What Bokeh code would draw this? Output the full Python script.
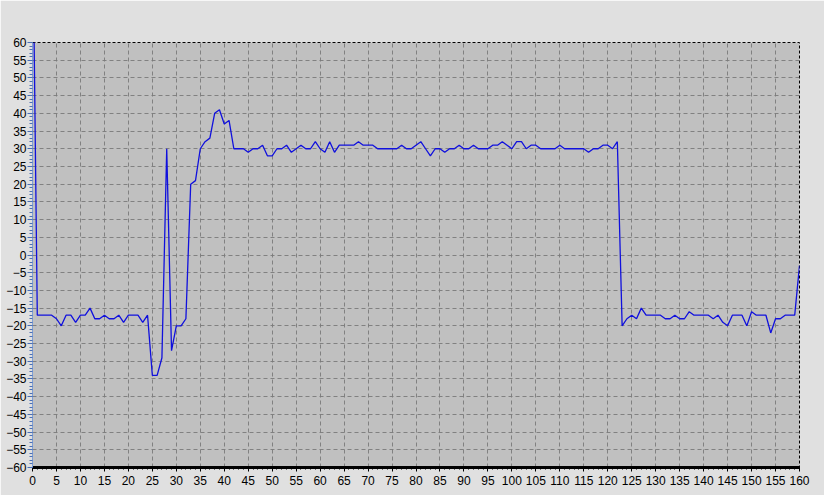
from bokeh.plotting import figure
from bokeh.models import Range1d, SingleIntervalTicker
from bokeh.embed import file_html
from bokeh.resources import INLINE

# ---- data ----
x_values = list(range(0, 161))
y_values = [
    100, -17, -17, -17, -17, -18, -20, -17, -17, -19,
    -17, -17, -15, -18, -18, -17, -18, -18, -17, -19,
    -17, -17, -17, -19, -17, -34, -34, -29, 30, -27,
    -20, -20, -18, 20, 21, 30, 32, 33, 40, 41,
    37, 38, 30, 30, 30, 29, 30, 30, 31, 28,
    28, 30, 30, 31, 29, 30, 31, 30, 30, 32,
    30, 29, 32, 29, 31, 31, 31, 31, 32, 31,
    31, 31, 30, 30, 30, 30, 30, 31, 30, 30,
    31, 32, 30, 28, 30, 30, 29, 30, 30, 31,
    30, 30, 31, 30, 30, 30, 31, 31, 32, 31,
    30, 32, 32, 30, 31, 31, 30, 30, 30, 30,
    31, 30, 30, 30, 30, 30, 29, 30, 30, 31,
    31, 30, 32, -20, -18, -17, -18, -15, -17, -17,
    -17, -17, -18, -18, -17, -18, -18, -16, -17, -17,
    -17, -17, -18, -17, -19, -20, -17, -17, -17, -20,
    -16, -17, -17, -17, -22, -18, -18, -17, -17, -17,
    -3,
]
x_min, x_max, x_step = 0, 160, 5
y_min, y_max, y_step = -60, 60, 5

FONT = "Liberation Sans"

p = figure(width=824, height=495, output_backend="svg", toolbar_location=None,
           x_range=Range1d(x_min, x_max), y_range=Range1d(y_min, y_max),
           min_border_left=32, min_border_top=42, min_border_right=25,
           min_border_bottom=28)
p.background_fill_color = "#c0c0c0"
p.border_fill_color = "#e0e0e0"
p.outline_line_color = "black"
p.outline_line_dash = "3 2"
p.outline_line_width = 1

# x axis
p.xaxis.ticker = SingleIntervalTicker(interval=x_step, num_minor_ticks=5)
p.xaxis.axis_line_color = "black"
p.xaxis.axis_line_width = 3
p.xaxis.major_tick_line_color = "black"
p.xaxis.major_tick_out = 4
p.xaxis.major_tick_in = 0
p.xaxis.minor_tick_line_color = "black"
p.xaxis.minor_tick_out = 2
p.xaxis.minor_tick_in = 0
p.xaxis.major_label_standoff = 4
p.xaxis.major_label_text_font = FONT
p.xaxis.major_label_text_font_size = "12px"
p.xaxis.major_label_text_color = "black"

# y axis
p.yaxis.ticker = SingleIntervalTicker(interval=y_step, num_minor_ticks=5)
p.yaxis.axis_line_color = "#7f9fd6"
p.yaxis.axis_line_width = 1
p.yaxis.major_tick_line_color = "#4a6fb5"
p.yaxis.major_tick_out = 5
p.yaxis.major_tick_in = 0
p.yaxis.minor_tick_line_color = "#4a6fb5"
p.yaxis.minor_tick_out = 3
p.yaxis.minor_tick_in = 0
p.yaxis.major_label_standoff = 1
p.yaxis.major_label_text_font = FONT
p.yaxis.major_label_text_font_size = "12px"
p.yaxis.major_label_text_color = "black"

# grid
for g in (p.xgrid, p.ygrid):
    g.grid_line_color = "#7a7a7a"
    g.grid_line_dash = "4 3"
    g.grid_line_width = 1
    g.grid_line_alpha = 0.9

p.line(x_values, y_values, line_color="#1010dd", line_width=1.3)

open("out.html", "w").write(file_html(p, INLINE))
